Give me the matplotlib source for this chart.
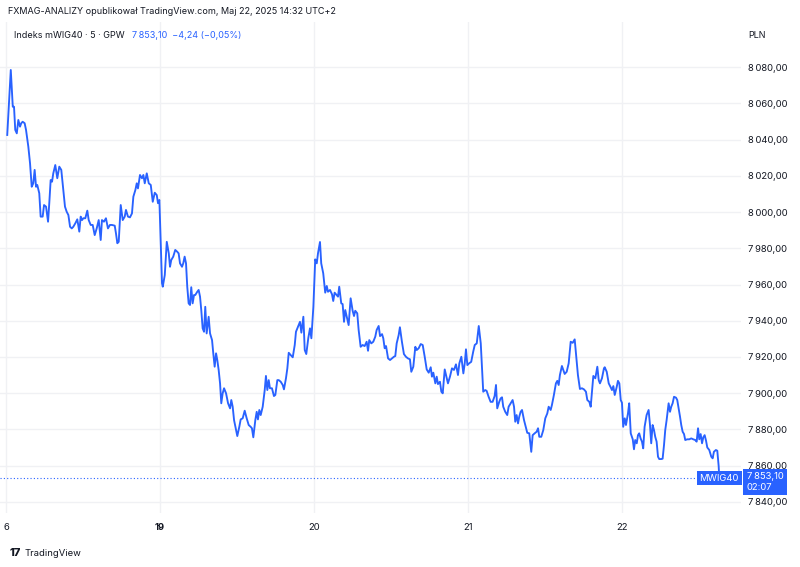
import matplotlib
matplotlib.use("Agg")
import matplotlib.pyplot as plt
import matplotlib.transforms as mtransforms

plt.rcParams['font.family'] = ['Inter', 'DejaVu Sans']

# pozycja w sesji (0 = otwarcie 16.05, 1 = 19.05, ...) i kurs indeksu mWIG40 (5 min)
czas = [0.008, 0.031, 0.044, 0.052, 0.060, 0.070, 0.080, 0.091, 0.099, 0.108,
        0.121, 0.130, 0.145, 0.156, 0.167, 0.177, 0.186, 0.195, 0.203, 0.216,
        0.225, 0.238, 0.247, 0.260, 0.273, 0.281, 0.290, 0.299, 0.307, 0.320,
        0.333, 0.346, 0.359, 0.372, 0.383, 0.394, 0.405, 0.416, 0.427, 0.437,
        0.450, 0.463, 0.476, 0.485, 0.494, 0.502, 0.515, 0.528, 0.537, 0.550,
        0.563, 0.576, 0.589, 0.602, 0.615, 0.623, 0.636, 0.649, 0.662, 0.675,
        0.688, 0.706, 0.714, 0.723, 0.732, 0.745, 0.758, 0.771, 0.779, 0.792,
        0.805, 0.818, 0.827, 0.840, 0.849, 0.857, 0.870, 0.883, 0.892, 0.901,
        0.914, 0.927, 0.940, 0.953, 0.966, 0.979, 0.987, 0.996,
        1.005, 1.013, 1.018, 1.031, 1.044, 1.057, 1.065, 1.073, 1.086, 1.099,
        1.112, 1.121, 1.130, 1.143, 1.151, 1.160, 1.169, 1.177, 1.186, 1.195,
        1.203, 1.212, 1.221, 1.229, 1.242, 1.251, 1.260, 1.268, 1.277, 1.286,
        1.294, 1.303, 1.316, 1.325, 1.338, 1.346, 1.355, 1.364, 1.372, 1.381,
        1.390, 1.398, 1.407, 1.416, 1.429, 1.442, 1.455, 1.463, 1.472, 1.481,
        1.494, 1.502, 1.515, 1.524, 1.537, 1.550, 1.563, 1.576, 1.589, 1.597,
        1.606, 1.619, 1.628, 1.636, 1.645, 1.654, 1.667, 1.680, 1.688, 1.697,
        1.706, 1.714, 1.727, 1.740, 1.749, 1.762, 1.771, 1.784, 1.797, 1.805,
        1.818, 1.827, 1.836, 1.849, 1.862, 1.875, 1.883, 1.896, 1.909, 1.918,
        1.931, 1.940, 1.950, 1.963, 1.974, 1.983,
        1.996, 2.008, 2.018, 2.026, 2.039, 2.047, 2.060, 2.073, 2.083, 2.091,
        2.104, 2.117, 2.125, 2.134, 2.147, 2.156, 2.164, 2.177, 2.186, 2.195,
        2.203, 2.212, 2.225, 2.238, 2.251, 2.260, 2.268, 2.281, 2.290, 2.303,
        2.316, 2.329, 2.342, 2.351, 2.359, 2.372, 2.385, 2.398, 2.407, 2.420,
        2.429, 2.442, 2.450, 2.459, 2.468, 2.481, 2.494, 2.506, 2.519, 2.528,
        2.537, 2.550, 2.558, 2.571, 2.584, 2.597, 2.610, 2.623, 2.632, 2.645,
        2.658, 2.667, 2.680, 2.693, 2.706, 2.719, 2.732, 2.745, 2.758, 2.766,
        2.775, 2.788, 2.797, 2.805, 2.818, 2.827, 2.836, 2.849, 2.862, 2.870,
        2.883, 2.896, 2.909, 2.922, 2.935, 2.944,
        2.957, 2.970, 2.979, 2.987, 2.996, 3.008, 3.021, 3.034, 3.044, 3.057,
        3.070, 3.083, 3.091, 3.099, 3.112, 3.121, 3.134, 3.147, 3.160, 3.173,
        3.182, 3.190, 3.203, 3.212, 3.221, 3.229, 3.242, 3.255, 3.264, 3.277,
        3.290, 3.299, 3.307, 3.316, 3.325, 3.333, 3.342, 3.351, 3.364, 3.372,
        3.385, 3.398, 3.407, 3.411, 3.420, 3.433, 3.446, 3.455, 3.463, 3.476,
        3.489, 3.502, 3.515, 3.524, 3.537, 3.545, 3.558, 3.571, 3.580, 3.589,
        3.597, 3.610, 3.619, 3.628, 3.641, 3.654, 3.667, 3.680, 3.693, 3.701,
        3.714, 3.727, 3.740, 3.753, 3.766, 3.775, 3.788, 3.797, 3.805, 3.814,
        3.827, 3.840, 3.849, 3.857, 3.870, 3.883,
        3.888, 3.901, 3.914, 3.927, 3.935, 3.944, 3.953, 3.966, 3.974, 3.983,
        3.992, 4.000, 4.008, 4.018, 4.026, 4.039, 4.047, 4.057, 4.070, 4.078,
        4.086, 4.096, 4.104, 4.112, 4.121, 4.130, 4.138, 4.147, 4.160, 4.173,
        4.182, 4.190, 4.199, 4.208, 4.216, 4.225, 4.234, 4.242, 4.255, 4.264,
        4.273, 4.281, 4.290, 4.303, 4.312, 4.320, 4.329, 4.338, 4.351, 4.359,
        4.368, 4.377, 4.385, 4.394, 4.403, 4.411, 4.424, 4.437, 4.450, 4.463,
        4.476, 4.485, 4.494, 4.502, 4.511, 4.520, 4.528, 4.537, 4.546, 4.554,
        4.567, 4.580, 4.589, 4.597, 4.610, 4.619, 4.628, 4.632]

kurs = [8042.6, 8078.5, 8058.2, 8058.2, 8045.4, 8043.5, 8050.9, 8047.2, 8049.1, 8049.9,
        8049.1, 8045.4, 8036.1, 8027.0, 8014.0, 8015.9, 8023.3, 8014.0, 8015.0, 8010.4,
        7997.5, 7997.5, 8003.9, 8003.0, 7994.7, 8004.9, 8017.7, 8016.8, 8021.4, 8026.0,
        8018.7, 8025.1, 8023.3, 8012.2, 8003.0, 8000.2, 7998.4, 7991.9, 7991.0, 7991.9,
        7993.8, 7996.0, 7989.2, 7997.5, 7995.6, 7996.6, 7996.6, 8000.8, 7995.6, 7992.9,
        7992.9, 7987.3, 7991.0, 7995.6, 7984.6, 7995.6, 7994.7, 7996.6, 7991.0, 7992.9,
        7992.9, 7992.5, 7988.3, 7982.8, 7983.6, 8003.9, 7995.6, 7997.5, 8001.2, 7997.5,
        7997.1, 7999.3, 8008.5, 8012.2, 8015.9, 8013.1, 8020.5, 8018.7, 8020.5, 8015.9,
        8021.4, 8015.9, 8015.0, 8005.7, 8010.7, 8009.4, 8004.9, 8006.7,
        7982.8, 7960.7, 7958.8, 7965.2, 7983.6, 7977.2, 7969.8, 7973.5, 7975.4, 7979.1,
        7978.1, 7977.2, 7971.7, 7969.8, 7971.7, 7975.4, 7971.7, 7958.8, 7949.6, 7948.7,
        7958.5, 7949.6, 7954.2, 7954.2, 7956.0, 7957.0, 7953.3, 7945.9, 7935.8, 7933.9,
        7947.7, 7933.0, 7942.2, 7933.0, 7929.3, 7922.0, 7914.6, 7922.0, 7918.3, 7912.8,
        7905.4, 7894.4, 7899.9, 7902.7, 7899.9, 7894.4, 7891.6, 7896.2, 7892.5, 7885.1,
        7879.6, 7876.3, 7881.4, 7885.5, 7886.1, 7890.3, 7886.1, 7882.4, 7881.4, 7880.6,
        7875.6, 7885.1, 7889.7, 7885.5, 7890.7, 7887.9, 7892.5, 7901.7, 7909.5, 7901.7,
        7907.2, 7902.7, 7902.7, 7898.4, 7899.0, 7907.2, 7907.2, 7906.3, 7904.5, 7902.1,
        7908.2, 7913.7, 7922.3, 7921.0, 7919.8, 7926.6, 7933.9, 7936.7, 7939.4, 7933.4,
        7942.2, 7923.8, 7921.6, 7930.4, 7935.8, 7930.3,
        7947.7, 7973.9, 7971.7, 7977.2, 7983.5, 7971.7, 7966.2, 7955.5, 7959.2, 7956.0,
        7957.0, 7954.6, 7950.9, 7955.5, 7954.2, 7953.3, 7958.8, 7949.6, 7949.2, 7939.4,
        7945.9, 7942.6, 7937.6, 7952.4, 7945.5, 7942.6, 7945.5, 7944.1, 7934.9, 7925.6,
        7926.6, 7926.0, 7928.4, 7923.4, 7929.3, 7927.5, 7928.4, 7931.2, 7934.9, 7937.1,
        7931.5, 7932.6, 7930.3, 7924.8, 7926.0, 7919.2, 7918.3, 7919.2, 7920.1, 7920.5,
        7927.5, 7932.1, 7936.4, 7928.4, 7921.6, 7920.1, 7919.2, 7918.7, 7911.8, 7914.6,
        7925.6, 7923.8, 7924.8, 7927.1, 7926.6, 7920.1, 7913.1, 7911.3, 7914.3, 7909.1,
        7911.3, 7905.4, 7909.1, 7905.0, 7906.3, 7900.8, 7899.9, 7913.1, 7908.2, 7905.4,
        7909.1, 7913.7, 7912.8, 7915.9, 7910.0, 7916.5,
        7920.1, 7910.9, 7916.5, 7924.2, 7915.5, 7916.5, 7917.3, 7922.9, 7926.6, 7927.5,
        7937.1, 7927.5, 7914.6, 7900.8, 7901.7, 7901.3, 7898.0, 7895.2, 7895.2, 7898.4,
        7904.5, 7891.6, 7895.2, 7897.1, 7897.7, 7892.5, 7889.7, 7887.9, 7892.5, 7894.4,
        7896.2, 7892.5, 7884.2, 7887.9, 7883.3, 7887.0, 7889.7, 7890.7, 7885.1, 7882.4,
        7878.1, 7877.8, 7870.4, 7867.6, 7876.8, 7877.8, 7878.7, 7880.6, 7875.9, 7875.9,
        7879.6, 7886.1, 7888.8, 7892.5, 7890.7, 7893.4, 7899.0, 7905.4, 7906.8, 7904.5,
        7910.0, 7915.0, 7912.8, 7910.6, 7911.8, 7916.5, 7928.4, 7927.8, 7929.7, 7922.0,
        7910.0, 7902.3, 7902.7, 7902.1, 7900.8, 7896.2, 7895.2, 7892.5, 7900.8, 7909.5,
        7908.2, 7914.6, 7907.2, 7905.4, 7908.2, 7913.7,
        7914.3, 7911.8, 7905.4, 7903.2, 7901.7, 7903.9, 7899.0, 7903.5, 7906.8, 7905.4,
        7896.2, 7894.7, 7881.4, 7886.1, 7882.4, 7888.8, 7894.4, 7877.8, 7874.5, 7869.0,
        7874.1, 7872.3, 7876.8, 7877.8, 7875.0, 7873.2, 7869.5, 7881.4, 7887.9, 7890.7,
        7882.4, 7872.3, 7882.4, 7879.6, 7875.9, 7873.2, 7864.9, 7863.6, 7863.6, 7863.8,
        7871.3, 7879.6, 7885.1, 7894.4, 7889.7, 7892.5, 7894.4, 7898.0, 7897.5, 7896.2,
        7891.6, 7887.0, 7882.4, 7878.7, 7877.4, 7874.1, 7874.5, 7874.5, 7875.0, 7874.5,
        7874.1, 7873.2, 7880.6, 7874.5, 7877.4, 7872.3, 7875.6, 7876.8, 7873.7, 7870.0,
        7868.6, 7864.9, 7864.0, 7867.6, 7868.6, 7868.2, 7859.7, 7853.1]

dni = [0, 1, 2, 3, 4]
dni_etykiety = ['6', '19', '20', '21', '22']
poziomy = list(range(7840, 8081, 20))

ostatni = 7853.10
zmiana = -4.24
zmiana_proc = -0.05

NIEBIESKI = '#2962ff'
TEKST = '#131722'
SIATKA = '#f0f1f4'
FS = 6.5


def pl(v, miejsca=2):
    s = f'{abs(v):,.{miejsca}f}'.replace(',', '\u2009').replace('.', ',')
    return ('\u2212' if v < 0 else '') + s


fig = plt.figure(figsize=(8, 5.67), dpi=100)
fig.patch.set_facecolor('white')
ax = fig.add_axes([0.0, 1 - 513 / 567, 741 / 800, (513 - 22) / 567])

ax.plot(czas, kurs, color=NIEBIESKI, lw=1.35, solid_joinstyle='round', zorder=3)
ax.axhline(ostatni, color=NIEBIESKI, lw=0.8, ls=(0, (1, 2)), zorder=2)

ax.set_xlim(-0.039, 4.773)
ax.set_ylim(7833.8, 8105.0)

ax.set_yticks(poziomy)
ax.set_yticklabels([pl(v) for v in poziomy])
ax.yaxis.tick_right()
ax.set_xticks(dni)
ax.set_xticklabels(dni_etykiety)
ax.get_xticklabels()[1].set_fontweight('bold')
ax.tick_params(axis='both', length=0, labelsize=FS + 0.3, colors=TEKST)
ax.tick_params(axis='y', pad=5)
ax.tick_params(axis='x', pad=7)
ax.grid(True, color=SIATKA, lw=1)
ax.set_axisbelow(True)
for s in ax.spines.values():
    s.set_visible(False)

# etykiety ostatniej ceny
tr = mtransforms.blended_transform_factory(ax.transAxes, ax.transData)
ax.text(0.997, ostatni, 'MWIG40', transform=tr, ha='right', va='center',
        color='white', fontsize=FS + 0.3, clip_on=False, zorder=5,
        bbox=dict(boxstyle='square,pad=0.3', fc=NIEBIESKI, ec='none'))
ax.annotate(pl(ostatni) + '\n02:07', xy=(1.0, ostatni), xycoords=tr,
            xytext=(4, 4.5), textcoords='offset points', ha='left', va='top',
            color='white', fontsize=FS + 0.3, linespacing=1.25, zorder=5,
            annotation_clip=False,
            bbox=dict(boxstyle='square,pad=0.35', fc=NIEBIESKI, ec='none'))

# nagłówki
fig.text(8 / 800, 1 - 12 / 567, 'FXMAG-ANALIZY opublikował TradingView.com, Maj 22, 2025 14:32 UTC+2',
         fontsize=FS, color=TEKST, va='center')
fig.text(14 / 800, 1 - 35 / 567, 'Indeks mWIG40 · 5 · GPW', fontsize=FS, color=TEKST, va='center')
fig.text(132 / 800, 1 - 35 / 567,
         f'{pl(ostatni)}  {pl(zmiana)} ({pl(zmiana_proc)}%)',
         fontsize=FS, color=NIEBIESKI, va='center')
fig.text(748 / 800, 1 - 35 / 567, 'PLN', fontsize=FS, color=TEKST, va='center')

# stopka
fig.text(10 / 800, 1 - 553 / 567, '17', fontsize=8, fontweight='heavy', color=TEKST, va='center')
fig.text(25 / 800, 1 - 553 / 567, 'TradingView', fontsize=FS + 0.3, color=TEKST, va='center')

fig.savefig('out.png', dpi=100, facecolor='white')
